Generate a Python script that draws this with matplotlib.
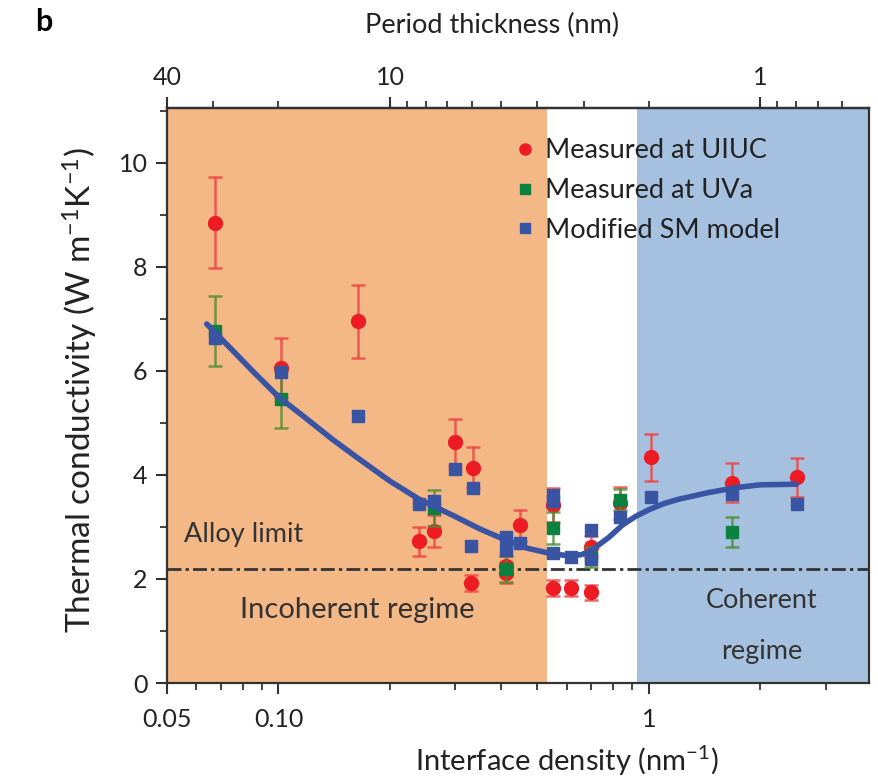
import numpy as np
import matplotlib
matplotlib.use("Agg")
import matplotlib.pyplot as plt
from matplotlib.lines import Line2D
from matplotlib.ticker import FixedLocator, FixedFormatter, NullFormatter

plt.rcParams['font.family'] = ['Lato', 'DejaVu Sans']
plt.rcParams['mathtext.fontset'] = 'custom'
plt.rcParams['mathtext.rm'] = 'Lato'
plt.rcParams['mathtext.default'] = 'regular'

# Measured at UIUC: interface density (nm^-1), conductivity, error
uiuc_x = [0.0675, 0.1017, 0.164, 0.239, 0.263, 0.300, 0.336, 0.330, 0.412, 0.412,
          0.450, 0.551, 0.551, 0.615, 0.700, 0.700, 0.835, 1.012, 1.673, 2.51]
uiuc_y = [8.85, 6.06, 6.95, 2.72, 2.92, 4.63, 4.14, 1.92, 2.25, 2.12,
          3.03, 3.42, 1.83, 1.83, 1.74, 2.62, 3.46, 4.34, 3.85, 3.95]
uiuc_err = [0.87, 0.57, 0.70, 0.28, 0.30, 0.45, 0.40, 0.15, 0.20, 0.20,
            0.30, 0.33, 0.15, 0.15, 0.15, 0.20, 0.30, 0.45, 0.38, 0.38]

# Measured at UVa
uva_x = [0.0675, 0.1017, 0.263, 0.412, 0.551, 0.700, 0.835, 1.673]
uva_y = [6.76, 5.45, 3.36, 2.20, 2.98, 2.42, 3.52, 2.91]
uva_err = [0.67, 0.55, 0.35, 0.25, 0.30, 0.20, 0.20, 0.29]

# Modified SM model, discrete samples
sm_x = [0.0675, 0.1017, 0.164, 0.239, 0.263, 0.300, 0.336, 0.330, 0.412, 0.412,
        0.450, 0.551, 0.551, 0.551, 0.615, 0.700, 0.700, 0.835, 1.012, 1.673, 2.51]
sm_y = [6.63, 5.97, 5.13, 3.44, 3.49, 4.11, 3.74, 2.63, 2.80, 2.55,
        2.69, 2.49, 3.62, 3.50, 2.42, 2.94, 2.38, 3.20, 3.58, 3.63, 3.44]

# Modified SM model, smooth trend
curve_x = [0.064, 0.075, 0.085, 0.10, 0.12, 0.14, 0.164, 0.20, 0.24, 0.30, 0.35,
           0.41, 0.47, 0.55, 0.62, 0.66, 0.70, 0.78, 0.85, 0.92, 1.0, 1.1, 1.2,
           1.45, 1.7, 2.0, 2.5]
curve_y = [6.90, 6.40, 6.00, 5.50, 5.06, 4.68, 4.32, 3.88, 3.53, 3.20, 2.96,
           2.75, 2.59, 2.48, 2.44, 2.47, 2.55, 2.80, 3.04, 3.20, 3.33, 3.45, 3.53,
           3.66, 3.75, 3.81, 3.82]

alloy_limit = 2.2
incoherent_max = 0.53
coherent_min = 0.93
x_lim = (0.05, 3.93)
y_lim = (0, 11.05)

c_orange = '#F4B887'
c_blue_bg = '#A6C1E0'
c_red = '#ED1C24'
c_green = '#0B8140'
c_blue = '#3A54A4'

fig = plt.figure(figsize=(8.79, 7.83), dpi=100)
ax = fig.add_axes([0.190, 0.1277, 0.7986, 0.7343])
ax.set_xscale('log')
ax.set_xlim(*x_lim)
ax.set_ylim(*y_lim)

ax.axvspan(x_lim[0], incoherent_max, color=c_orange, lw=0, zorder=0)
ax.axvspan(coherent_min, x_lim[1], color=c_blue_bg, lw=0, zorder=0)

ax.axhline(alloy_limit, color='#333333', lw=2.0, dashes=(5, 1.5, 1.2, 1.5), zorder=1)

ax.errorbar(uiuc_x, uiuc_y, yerr=uiuc_err, fmt='o', color=c_red, ms=10,
            ecolor=(0.93, 0.25, 0.25, 0.8), elinewidth=1.8, capsize=5,
            capthick=1.8, zorder=3)
ax.errorbar(uva_x, uva_y, yerr=uva_err, fmt='s', color=c_green, ms=8.5,
            ecolor=(0.3, 0.55, 0.2, 0.8), elinewidth=1.8, capsize=5,
            capthick=1.8, zorder=4)
ax.plot(curve_x, curve_y, color=c_blue, lw=4, solid_capstyle='round',
        solid_joinstyle='round', zorder=5)
ax.plot(sm_x, sm_y, 's', color=c_blue, ms=9, zorder=6)

# Bottom axis ticks
ax.xaxis.set_major_locator(FixedLocator([0.05, 0.1, 1]))
ax.xaxis.set_major_formatter(FixedFormatter(['0.05', '0.10', '1']))
ax.xaxis.set_minor_locator(FixedLocator([0.06, 0.07, 0.08, 0.09, 0.2, 0.3, 0.4, 0.5,
                                         0.6, 0.7, 0.8, 0.9, 2, 3]))
ax.xaxis.set_minor_formatter(NullFormatter())
ax.set_yticks([0, 2, 4, 6, 8, 10])
ax.set_yticks([1, 3, 5, 7, 9, 11], minor=True)

ax.tick_params(axis='both', which='major', direction='out', length=8, width=1.5,
               labelsize=18, color='#333333', labelcolor='#222222', pad=6)
ax.tick_params(axis='x', which='major', pad=10)
ax.tick_params(axis='both', which='minor', direction='out', length=5, width=1.3,
               color='#333333')
for sp in ax.spines.values():
    sp.set_linewidth(1.6)
    sp.set_color('#333333')

ax.set_xlabel('Interface density (nm$^{-1}$)', fontsize=21, color='#222222')
ax.xaxis.set_label_coords(0.57, -0.105)
ax.set_ylabel('Thermal conductivity (W m$^{-1}$K$^{-1}$)', fontsize=24, color='#222222')
ax.yaxis.set_label_coords(-0.095, 0.51)

# Top axis: period thickness = 2 / interface density
top = ax.secondary_xaxis('top', functions=(lambda x: 2.0 / x, lambda x: 2.0 / x))
top.xaxis.set_major_locator(FixedLocator([40, 10, 1]))
top.xaxis.set_major_formatter(FixedFormatter(['40', '10', '1']))
top.xaxis.set_minor_locator(FixedLocator([30, 20, 9, 8, 7, 6, 5, 4, 3, 2,
                                          0.9, 0.8, 0.7, 0.6]))
top.xaxis.set_minor_formatter(NullFormatter())
top.tick_params(axis='x', which='major', direction='out', length=8, width=1.5,
                labelsize=18, color='#333333', labelcolor='#222222', pad=6)
top.tick_params(axis='x', which='minor', direction='out', length=5, width=1.3,
                color='#333333')
top.spines['top'].set_linewidth(1.6)
fig.text(0.560, 0.968, 'Period thickness (nm)', fontsize=19.5, color='#222222',
         ha='center', va='center')

ax.text(0.0557, 2.85, 'Alloy limit', fontsize=19.5, color='#333333', va='center', ha='left')
ax.text(0.163, 1.4, 'Incoherent regime', fontsize=21, color='#333333', va='center',
        ha='center')
ax.text(2.02, 1.1, 'Coherent\nregime', fontsize=19.5, color='#333333', va='center',
        ha='center', linespacing=2.3)

legend_handles = [
    Line2D([], [], ls='none', marker='o', color=c_red, ms=8, label='Measured at UIUC'),
    Line2D([], [], ls='none', marker='s', color=c_green, ms=7, label='Measured at UVa'),
    Line2D([], [], ls='none', marker='s', color=c_blue, ms=7, label='Modified SM model'),
]
ax.legend(handles=legend_handles, loc='upper left', bbox_to_anchor=(0.452, 0.99),
          frameon=False, fontsize=19.5, handletextpad=0.15, labelspacing=0.55,
          handlelength=1.2, labelcolor='#222222')

fig.text(0.040, 0.972, 'b', fontsize=22, fontweight='bold', va='center')

fig.savefig('out.png', dpi=100)
